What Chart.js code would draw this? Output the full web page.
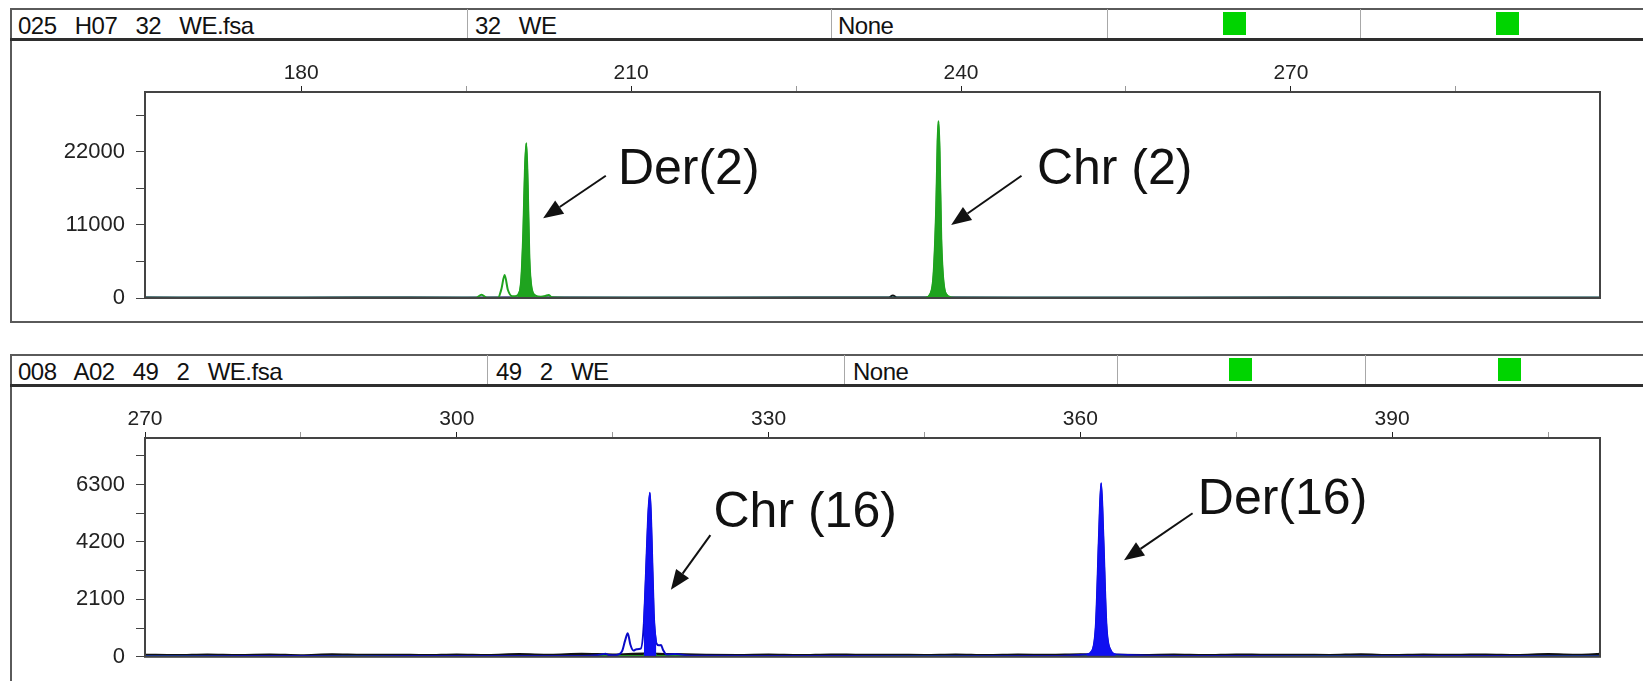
<!DOCTYPE html>
<html>
<head>
<meta charset="utf-8">
<script src="https://cdn.jsdelivr.net/npm/chart.js@4.4.1/dist/chart.umd.min.js"></script>
<style>
  html, body { margin:0; padding:0; background:#fff; width:1643px; height:681px; overflow:hidden; position:relative; }
  .frame { position:absolute; box-sizing:border-box; border:2px solid #5a5a5a; }
  .hline { position:absolute; background:#2e2e2e; height:3px; }
  .vline { position:absolute; background:#a8a8a8; width:1px; }
  .htxt { position:absolute; font-family:"Liberation Sans", Arial, sans-serif; font-size:24px; color:#111; word-spacing:12px; white-space:nowrap; letter-spacing:-0.5px; }
  .gsq { position:absolute; background:#00d400; width:23px; height:23px; }
  canvas { position:absolute; left:0; }
</style>
</head>
<body>
<!-- top panel frame & header -->
<div class="frame" style="left:10px; top:8px; width:1660px; height:315px;"></div>
<div class="hline" style="left:10px; top:38px; width:1660px;"></div>
<div class="vline" style="left:467px; top:9px; height:29px;"></div>
<div class="vline" style="left:831px; top:9px; height:29px;"></div>
<div class="vline" style="left:1107px; top:9px; height:29px;"></div>
<div class="vline" style="left:1360px; top:9px; height:29px;"></div>
<div class="htxt" style="left:18px; top:12px;">025 H07 32 WE.fsa</div>
<div class="htxt" style="left:475px; top:12px;">32 WE</div>
<div class="htxt" style="left:838px; top:12px;">None</div>
<div class="gsq" style="left:1223px; top:12px;"></div>
<div class="gsq" style="left:1496px; top:12px;"></div>

<!-- bottom panel frame & header -->
<div class="frame" style="left:10px; top:354px; width:1660px; height:400px;"></div>
<div class="hline" style="left:10px; top:384px; width:1660px;"></div>
<div class="vline" style="left:487px; top:355px; height:29px;"></div>
<div class="vline" style="left:844px; top:355px; height:29px;"></div>
<div class="vline" style="left:1117px; top:355px; height:29px;"></div>
<div class="vline" style="left:1365px; top:355px; height:29px;"></div>
<div class="htxt" style="left:18px; top:358px;">008 A02 49 2 WE.fsa</div>
<div class="htxt" style="left:496px; top:358px;">49 2 WE</div>
<div class="htxt" style="left:853px; top:358px;">None</div>
<div class="gsq" style="left:1229px; top:358px;"></div>
<div class="gsq" style="left:1498px; top:358px;"></div>

<canvas id="c1" width="1643" height="282" style="top:41px;"></canvas>
<canvas id="c2" width="1643" height="294" style="top:387px;"></canvas>

<script>
// ---------------- DATA ----------------
// Top panel (size in bp vs RFU)
const topXTicks      = [180, 195, 210, 225, 240, 255, 270, 285];
const topXLabels     = [180, 210, 240, 270];
const topYTicks      = [0, 5500, 11000, 16500, 22000, 27500];
const topYLabels     = [0, 11000, 22000];

const topGreenX = [165.8, 172, 180, 188, 194, 195.9, 196.4, 196.9, 197.9, 198.2, 198.5, 198.8, 199.2, 199.7, 200.0, 200.2, 200.35, 200.47, 200.6, 200.75, 200.95, 201.3, 201.8, 202.2, 202.5, 202.8, 204, 215, 226, 233, 236.8, 237.2, 237.5, 237.75, 237.87, 237.95, 238.05, 238.2, 238.45, 238.8, 239.5, 250, 265, 285, 298.1];
const topGreenY = [40, 30, 40, 30, 40, 40, 500, 40, 40, 1300, 3450, 1200, 250, 400, 2500, 10000, 19500, 23300, 17000, 6000, 1500, 350, 200, 300, 450, 100, 40, 30, 40, 30, 40, 600, 3500, 14000, 23500, 26600, 22000, 9000, 1800, 300, 40, 30, 40, 30, 40];
const topGreenFilledPeaks = [[199.7, 201.3], [236.8, 238.8]];

const topBlackX = [165.8, 175, 185, 195, 199.8, 200.2, 200.47, 200.75, 201.2, 210, 225, 233.4, 233.8, 234.2, 237.3, 237.7, 237.95, 238.2, 238.6, 250, 270, 298.1];
const topBlackY = [60, 40, 70, 50, 60, 250, 750, 250, 60, 40, 60, 60, 380, 60, 60, 250, 500, 250, 60, 50, 60, 50];

const topBlueX = [165.8, 200.0, 200.3, 200.47, 200.65, 201.0, 237.3, 237.7, 237.95, 238.2, 238.6, 298.1];
const topBlueY = [0, 0, 150, 350, 150, 0, 0, 600, 1000, 600, 0, 0];

// Bottom panel
const botXTicks  = [270, 285, 300, 315, 330, 345, 360, 375, 390, 405];
const botXLabels = [270, 300, 330, 360, 390];
const botYTicks  = [0, 1050, 2100, 3150, 4200, 5250, 6300, 7350];
const botYLabels = [0, 2100, 4200, 6300];

const botBlueX = [270, 280, 290, 300, 310, 313.5, 314.0, 314.3, 314.6, 315.3, 315.9, 316.2, 316.45, 316.7, 317.0, 317.3, 317.7, 318.0, 318.2, 318.4, 318.58, 318.75, 318.95, 319.2, 319.45, 319.65, 319.85, 320.2, 321, 322.5, 330, 345, 358, 360.6, 361.1, 361.5, 361.8, 362.0, 362.2, 362.5, 362.9, 363.4, 370, 385, 400, 410];
const botBlueY = [20, 30, 20, 30, 25, 60, 90, 110, 70, 60, 200, 600, 860, 450, 230, 280, 300, 1200, 3000, 5000, 6000, 4300, 1600, 500, 420, 430, 250, 80, 100, 40, 30, 20, 30, 80, 200, 1200, 4500, 6350, 4500, 1200, 250, 80, 30, 20, 30, 20];
const botBlueFilledPeaks = [[317.85, 319.25], [360.5, 363.5]];

const botGreenX = [270, 300, 317.9, 318.3, 318.58, 318.9, 319.3, 340, 361.2, 361.6, 361.95, 362.3, 362.7, 410];
const botGreenY = [20, 20, 20, 200, 430, 200, 20, 20, 20, 250, 520, 250, 20, 20];

const botBlackX = [270, 273, 276, 279, 282, 285, 288, 291, 294, 297, 300, 303, 306, 309, 312, 315, 318, 321, 324, 327, 330, 333, 336, 339, 342, 345, 348, 351, 354, 357, 360, 363, 366, 369, 372, 375, 378, 381, 384, 387, 390, 393, 396, 399, 402, 405, 408, 410];
const botBlackY = [60, 45, 70, 50, 65, 40, 75, 55, 60, 45, 70, 50, 80, 60, 90, 70, 100, 80, 60, 50, 65, 45, 70, 55, 60, 50, 70, 45, 65, 55, 75, 60, 50, 65, 45, 70, 55, 60, 50, 75, 45, 65, 55, 70, 50, 80, 60, 90];

// ---------------- HELPERS ----------------
const pts = (xs, ys) => xs.map((x, i) => ({x, y: ys[i]}));
function windowed(xs, ys, wins) {
  const out = [];
  wins.forEach((w, k) => {
    if (k > 0) out.push({x: (wins[k-1][1] + w[0]) / 2, y: null});
    xs.forEach((x, i) => { if (x >= w[0] && x <= w[1]) out.push({x, y: ys[i]}); });
  });
  return out;
}

const GREEN = '#1fa31f', BLUE = '#1010f0', DBLUE = '#0a0ac8', BLACK = '#111';
const FONT = '"Liberation Sans", Arial, sans-serif';

const frameAnnot = {
  id: 'annot',
  afterDatasetsDraw(chart, args, opts) {
    const {ctx, chartArea: a, scales: {x, y}} = chart;
    ctx.save();
    ctx.strokeStyle = '#444'; ctx.lineWidth = 2;
    ctx.strokeRect(a.left, a.top, a.right - a.left, a.bottom - a.top);
    for (const n of opts.items || []) {
      ctx.fillStyle = '#111';
      ctx.font = '50px ' + FONT;
      ctx.textBaseline = 'middle';
      ctx.fillText(n.text, x.getPixelForValue(n.tx), y.getPixelForValue(n.ty));
      const x1 = x.getPixelForValue(n.ax1), y1 = y.getPixelForValue(n.ay1);
      const x2 = x.getPixelForValue(n.ax2), y2 = y.getPixelForValue(n.ay2);
      const ang = Math.atan2(y2 - y1, x2 - x1), L = 20, W = 8;
      const bx = x2 - L * Math.cos(ang), by = y2 - L * Math.sin(ang);
      ctx.strokeStyle = '#111'; ctx.lineWidth = 2;
      ctx.beginPath(); ctx.moveTo(x1, y1); ctx.lineTo(bx, by); ctx.stroke();
      ctx.beginPath();
      ctx.moveTo(x2, y2);
      ctx.lineTo(bx + W * Math.sin(ang), by - W * Math.cos(ang));
      ctx.lineTo(bx - W * Math.sin(ang), by + W * Math.cos(ang));
      ctx.closePath(); ctx.fill();
    }
    ctx.restore();
  }
};

function lineDs(data, color, width, fill) {
  return {
    data, borderColor: color, borderWidth: width, pointRadius: 0,
    cubicInterpolationMode: 'monotone', fill: fill ? 'origin' : false,
    backgroundColor: color, spanGaps: false
  };
}

function makeChart(id, cfg) {
  return new Chart(document.getElementById(id), {
    type: 'line',
    data: { datasets: cfg.datasets },
    plugins: [frameAnnot],
    options: {
      responsive: false, animation: false, devicePixelRatio: 1,
      layout: { padding: { left: 0, right: 43, top: 0, bottom: cfg.padBottom } },
      plugins: { legend: { display: false }, tooltip: { enabled: false }, annot: { items: cfg.annots } },
      scales: {
        x: {
          type: 'linear', position: 'top', min: cfg.xmin, max: cfg.xmax,
          afterBuildTicks: s => { s.ticks = cfg.xTicks.map(v => ({value: v})); },
          afterFit: s => { s.height = 51; },
          border: { display: false },
          grid: { drawOnChartArea: false, tickLength: 6, tickWidth: 1,
                  tickColor: c => cfg.xLabels.includes(c.tick && c.tick.value) ? '#222' : '#999' },
          ticks: { color: '#222', font: { family: FONT, size: 21 }, padding: 0, maxRotation: 0,
                   callback: v => cfg.xLabels.includes(v) ? String(v) : '' }
        },
        y: {
          type: 'linear', min: 0, max: cfg.ymax,
          afterBuildTicks: s => { s.ticks = cfg.yTicks.map(v => ({value: v})); },
          afterFit: s => { s.width = 145; },
          border: { display: false },
          grid: { drawOnChartArea: false, tickLength: 9, tickWidth: 1, tickColor: '#444' },
          ticks: { color: '#222', font: { family: FONT, size: 22 }, padding: 11,
                   callback: v => cfg.yLabels.includes(v) ? String(v) : '' }
        }
      }
    }
  });
}

makeChart('c1', {
  xmin: 165.8, xmax: 298.1, ymax: 31000, padBottom: 25,
  xTicks: topXTicks, xLabels: topXLabels, yTicks: topYTicks, yLabels: topYLabels,
  datasets: [
    lineDs(windowed(topGreenX, topGreenY, topGreenFilledPeaks), GREEN, 1.5, true),
    lineDs(pts(topGreenX, topGreenY), GREEN, 2, false),
    lineDs(pts(topBlueX, topBlueY), DBLUE, 2.5, false),
    lineDs(pts(topBlackX, topBlackY), BLACK, 2, false)
  ],
  annots: [
    {text: 'Der(2)', tx: 208.8, ty: 19300, ax1: 207.7, ay1: 18400, ax2: 202.0, ay2: 12000},
    {text: 'Chr (2)', tx: 246.9, ty: 19300, ax1: 245.5, ay1: 18400, ax2: 239.1, ay2: 11000}
  ]
});

makeChart('c2', {
  xmin: 270, xmax: 410, ymax: 8000, padBottom: 24,
  xTicks: botXTicks, xLabels: botXLabels, yTicks: botYTicks, yLabels: botYLabels,
  datasets: [
    lineDs(windowed(botBlueX, botBlueY, botBlueFilledPeaks), BLUE, 1.5, true),
    lineDs(pts(botBlueX, botBlueY), DBLUE, 2, false),
    lineDs(pts(botGreenX, botGreenY), GREEN, 2.5, false),
    lineDs(pts(botBlackX, botBlackY), BLACK, 3, false)
  ],
  annots: [
    {text: 'Chr (16)', tx: 324.7, ty: 5260, ax1: 324.4, ay1: 4450, ax2: 320.6, ay2: 2450},
    {text: 'Der(16)', tx: 371.3, ty: 5720, ax1: 370.8, ay1: 5250, ax2: 364.2, ay2: 3530}
  ]
});
</script>
</body>
</html>
